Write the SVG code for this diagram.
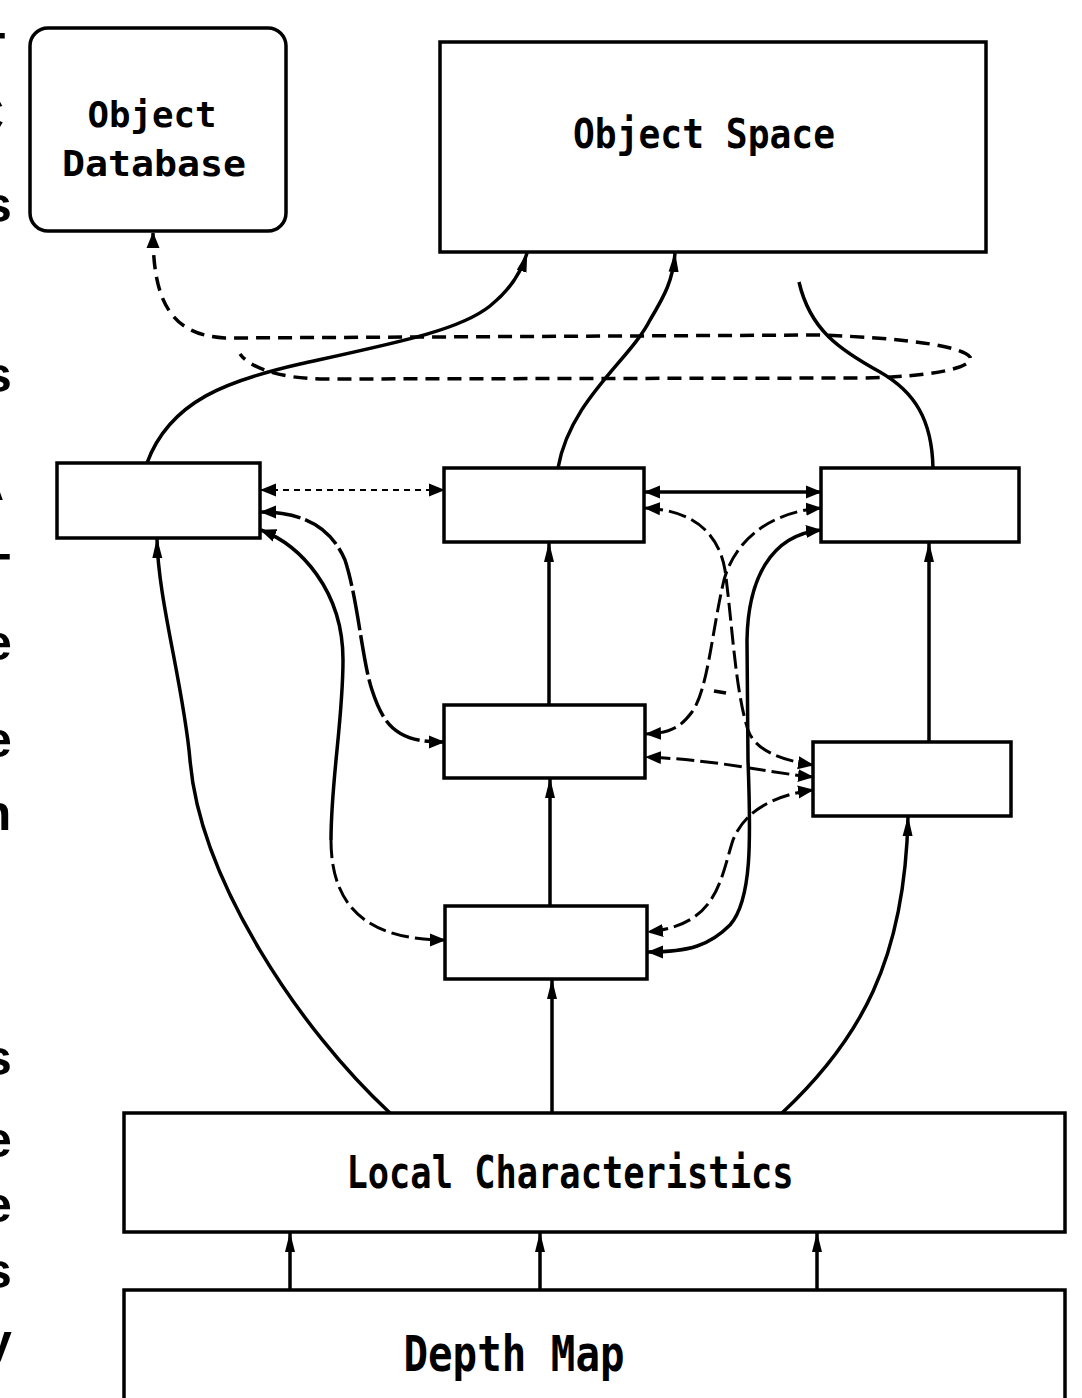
<svg xmlns="http://www.w3.org/2000/svg" width="1082" height="1398" viewBox="0 0 1082 1398">
<style>
.box{fill:#fff;stroke:#000;stroke-width:3.5}
.lbl{font-family:"DejaVu Sans Mono","Liberation Mono",monospace;font-weight:bold;fill:#000;text-anchor:middle}
.edge{font-family:"Liberation Sans",Arial,sans-serif;font-size:50px;font-weight:bold;fill:#000;text-anchor:middle}
.ln{fill:none;stroke:#000;stroke-width:3.5}
.dash{fill:none;stroke:#000;stroke-width:3.5;stroke-dasharray:14 8}
.dash2{fill:none;stroke:#000;stroke-width:3;stroke-dasharray:18 6}
.dot{fill:none;stroke:#000;stroke-width:2;stroke-dasharray:6 5}
</style>
<defs>
<marker id="ah" viewBox="0 0 16 14" refX="15" refY="7" markerWidth="16" markerHeight="14" markerUnits="userSpaceOnUse" orient="auto-start-reverse"><path d="M0,0.5 L16,7 L0,13.5 z" fill="#000"/></marker>
<marker id="ahv" viewBox="0 0 20 12" refX="19" refY="6" markerWidth="20" markerHeight="12" markerUnits="userSpaceOnUse" orient="auto-start-reverse"><path d="M0,1 L20,6 L0,11 z" fill="#000"/></marker>
</defs>
<rect width="1082" height="1398" fill="#fff"/>

<g id="edge-text">
<text class="edge" x="-10" y="68">T</text>
<text class="edge" x="-14" y="132">C</text>
<text class="edge" x="-2" y="222">s</text>
<text class="edge" x="-2" y="392">s</text>
<text class="edge" x="-14" y="500">A</text>
<text class="edge" x="-5" y="589">T</text>
<text class="edge" x="-2" y="660">e</text>
<text class="edge" x="-2" y="757">e</text>
<text class="edge" x="-4" y="830">n</text>
<text class="edge" x="-2" y="1075">s</text>
<text class="edge" x="-2" y="1157">e</text>
<text class="edge" x="-2" y="1222">e</text>
<text class="edge" x="-2" y="1288">s</text>
<text class="edge" x="-2" y="1359">y</text>
</g>

<g id="connectors">
<!-- Depth Map to Local Characteristics -->
<path class="ln" d="M290,1290 L290,1233" marker-end="url(#ahv)"/>
<path class="ln" d="M540,1290 L540,1233" marker-end="url(#ahv)"/>
<path class="ln" d="M817,1290 L817,1233" marker-end="url(#ahv)"/>
<!-- vertical solid arrows -->
<path class="ln" d="M552,1113 L552,980" marker-end="url(#ahv)"/>
<path class="ln" d="M550,906 L550,779" marker-end="url(#ahv)"/>
<path class="ln" d="M549,705 L549,543" marker-end="url(#ahv)"/>
<path class="ln" d="M929,742 L929,543" marker-end="url(#ahv)"/>
<!-- Local Characteristics curves -->
<path class="ln" d="M782,1113 C860,1040 905,960 908,817" marker-end="url(#ahv)"/>
<path class="ln" d="M390,1113 C300,1030 200,880 190,760 C184,688 158,600 157,539" marker-end="url(#ahv)"/>
<!-- to Object Space -->
<path class="ln" d="M147,463 C170,400 230,380 300,364 C400,342 460,330 490,306 C510,290 522,270 527,253" marker-end="url(#ahv)"/>
<path class="ln" d="M558,468 C570,400 630,360 650,320 C665,295 673,280 675,253" marker-end="url(#ahv)"/>
<path class="ln" d="M799,282 C810,330 840,350 880,372 C915,392 932,420 933,468"/>
<!-- database loop -->
<path class="dash" d="M153,233 C153,300 170,335 225,338 L820,335 C900,338 960,345 970,357 C975,368 930,377 860,378 L320,379 C280,378 250,368 240,354" marker-start="url(#ah)"/>
<!-- A to B dotted -->
<path class="dot" d="M261,490 L444,490" marker-start="url(#ah)" marker-end="url(#ah)"/>
<!-- A to C -->
<path class="ln" d="M261,512 C300,512 330,525 345,560 C358,600 362,660 372,690 C385,730 400,742 444,742" stroke-width="3" stroke-dasharray="40 5" marker-start="url(#ah)" marker-end="url(#ah)"/>
<!-- A to E -->
<path class="ln" d="M261,530 C300,545 343,590 343,660 C343,720 331,780 331,840" marker-start="url(#ah)"/>
<path class="dash2" d="M331,840 C331,900 360,940 445,940" marker-end="url(#ah)"/>
<!-- B to D -->
<path class="ln" d="M645,492 L821,492" marker-start="url(#ah)" marker-end="url(#ah)"/>
<!-- B to F -->
<path class="dash2" d="M645,508 C690,510 718,530 725,570 C732,620 735,690 748,730 C755,750 780,760 813,765" marker-start="url(#ah)" marker-end="url(#ah)"/>
<!-- D to C -->
<path class="dash2" d="M821,508 C770,512 735,540 724,580 C712,630 708,690 692,712 C680,728 670,733 646,734" marker-start="url(#ah)" marker-end="url(#ah)"/>
<!-- D to E -->
<path class="ln" d="M821,530 C770,535 748,580 747,640 L748,760 C751,840 752,900 730,925 C710,945 690,952 648,952" marker-start="url(#ah)" marker-end="url(#ah)"/>
<!-- F to E -->
<path class="dash2" d="M813,790 C775,795 745,810 733,840 C720,880 718,925 648,932" marker-start="url(#ah)" marker-end="url(#ah)"/>
<!-- F to C -->
<path class="dash2" d="M813,777 C770,773 720,760 646,757" marker-start="url(#ah)" marker-end="url(#ah)"/>
<path class="ln" d="M714,691 L726,693"/>
</g>

<g id="object-database">
<rect class="box" x="30" y="28" width="256" height="203" rx="18"/>
<text class="lbl" x="152" y="127" font-size="35" textLength="129" lengthAdjust="spacingAndGlyphs">Object</text>
<text class="lbl" x="154" y="176" font-size="35" textLength="184" lengthAdjust="spacingAndGlyphs">Database</text>
</g>

<g id="object-space">
<rect class="box" x="440" y="42" width="546" height="210"/>
<text class="lbl" x="704" y="148" font-size="40" textLength="262" lengthAdjust="spacingAndGlyphs">Object Space</text>
</g>

<g id="node-a"><rect class="box" x="57" y="463" width="203" height="75"/></g>
<g id="node-b"><rect class="box" x="444" y="468" width="200" height="74"/></g>
<g id="node-d"><rect class="box" x="821" y="468" width="198" height="74"/></g>
<g id="node-c"><rect class="box" x="444" y="705" width="201" height="73"/></g>
<g id="node-f"><rect class="box" x="813" y="742" width="198" height="74"/></g>
<g id="node-e"><rect class="box" x="445" y="906" width="202" height="73"/></g>

<g id="local-characteristics">
<rect class="box" x="124" y="1113" width="941" height="119"/>
<text class="lbl" x="570" y="1188" font-size="44" textLength="447" lengthAdjust="spacingAndGlyphs">Local Characteristics</text>
</g>

<g id="depth-map">
<rect class="box" x="124" y="1290" width="941" height="130"/>
<text class="lbl" x="514" y="1371" font-size="50" textLength="221" lengthAdjust="spacingAndGlyphs">Depth Map</text>
</g>
</svg>
